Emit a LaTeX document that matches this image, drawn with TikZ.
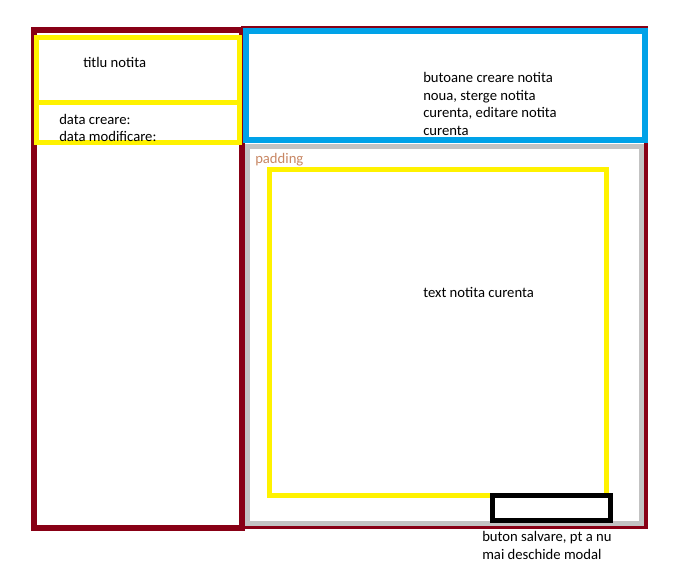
\documentclass[tikz,border=0pt]{standalone}
\usepackage{fontspec}
\setmainfont{Carlito}

\definecolor{darkred}{RGB}{136,0,21}
\definecolor{paintyellow}{RGB}{255,242,0}
\definecolor{paintblue}{RGB}{0,162,232}
\definecolor{paintgray}{RGB}{195,195,195}
\definecolor{paddingcol}{RGB}{200,135,100}

\tikzstyle{note} = [anchor = base west, inner sep = 0pt, font = \fontsize{11}{13.4}\selectfont]
\tikzstyle{panel} = [draw = darkred, line width = 4.5pt]
\tikzstyle{field} = [draw = paintyellow, line width = 3.75pt]

\begin{document}
\begin{tikzpicture}[x = 0.75pt, y = -0.75pt]
      \useasboundingbox (0, 0) rectangle (680, 572);

      % outer frames
      \draw[panel, line width = 2.6pt] (243, 27.5) rectangle (646, 527.5);
      \draw[panel] (34, 30) rectangle (242, 528);

      % left column
      \draw[field] (36.5, 37.5) rectangle (239.5, 102.5);
      \draw[field] (36.5, 102.5) rectangle (239.5, 142.5);
      \node[note] (titlu) at (83, 67) {titlu notita};
      \node[note] (creare) at (59, 124) {data creare:};
      \node[note] (modif) at (59, 141.5) {data modificare:};

      % toolbar
      \draw[paintblue, line width = 4.5pt] (246, 31) rectangle (644.5, 140);
      \node[note] (but1) at (423, 82) {butoane creare notita};
      \node[note] (but2) at (423, 100) {noua, sterge notita};
      \node[note] (but3) at (423, 117.5) {curenta, editare notita};
      \node[note] (but4) at (423, 135) {curenta};

      % content
      \draw[paintgray, line width = 3.75pt] (247.5, 146.5) rectangle (641, 523.5);
      \node[note, text = paddingcol] (padding) at (255, 163) {padding};
      \draw[field] (269.5, 169.5) rectangle (606.5, 495.5);
      \node[note] (text) at (423, 297) {text notita curenta};

      % save button
      \draw[black, line width = 3.75pt] (492.5, 495.5) rectangle (610.5, 520.5);
      \node[note] (salv1) at (482, 541.5) {buton salvare, pt a nu};
      \node[note] (salv2) at (482, 559.3) {mai deschide modal};
    \end{tikzpicture}
\end{document}
